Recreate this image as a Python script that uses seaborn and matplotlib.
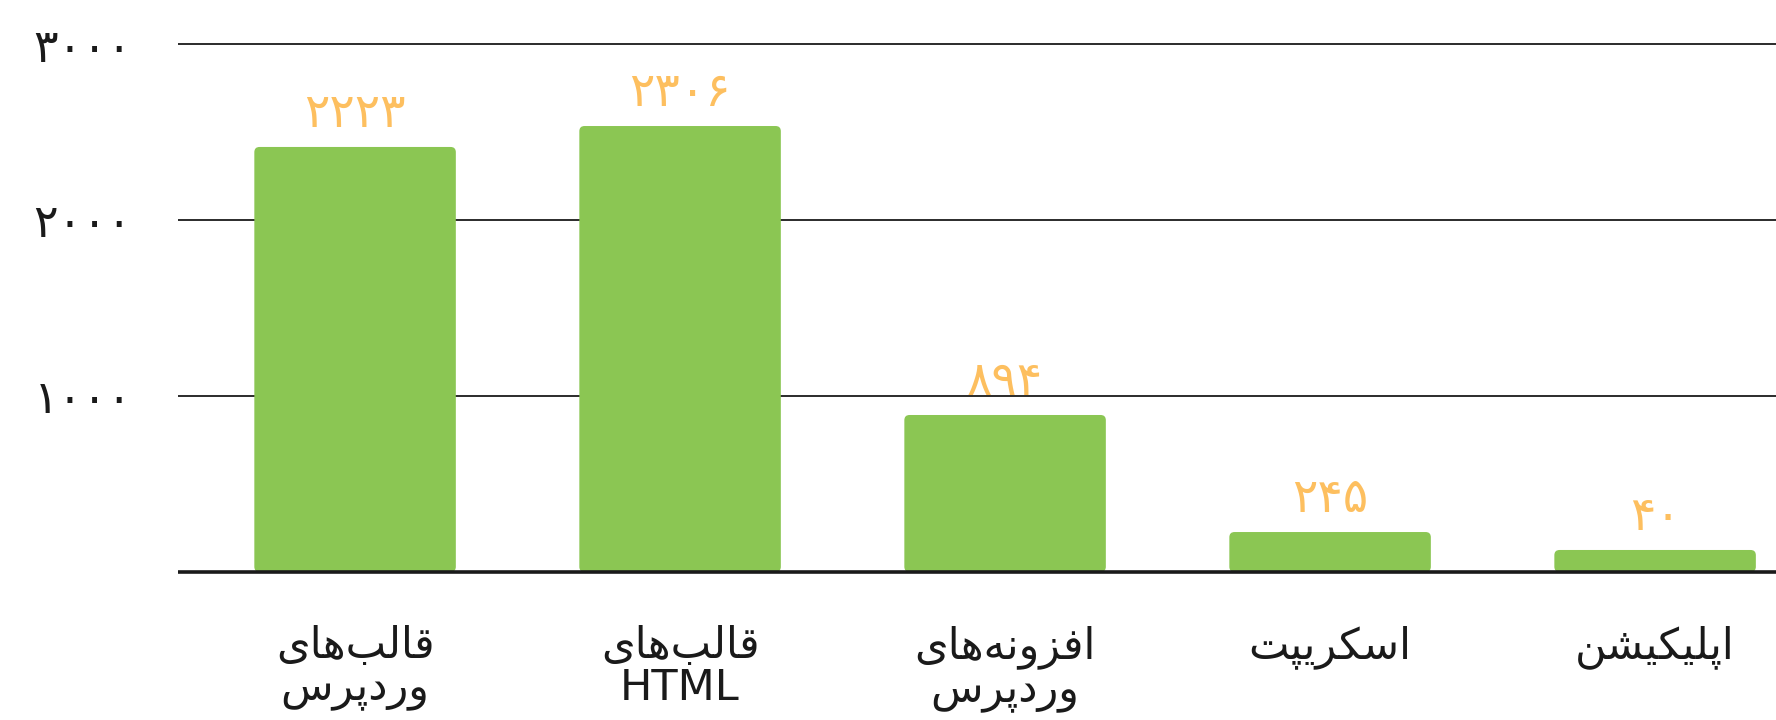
import pandas as pd
import matplotlib.pyplot as plt
import seaborn as sns
from matplotlib.patches import FancyBboxPatch

# data
categories = ["قالب‌های\nوردپرس", "قالب‌های\nHTML", "افزونه‌های\nوردپرس", "اسکریپت", "اپلیکیشن"]
bar_heights = [2415, 2534, 892, 227, 125]   # drawn height of each bar
bar_labels = [2223, 2306, 894, 245, 40]     # number printed above each bar
y_ticks = [1000, 2000, 3000]

GREEN = "#8bc653"
ORANGE = "#fdbf5f"

# matplotlib has no arabic shaping, so pick the presentation forms by hand
FORMS = {  # isolated, final, initial, medial
    'ا': ('\uFE8D', '\uFE8E', None, None),
    'ب': ('\uFE8F', '\uFE90', '\uFE91', '\uFE92'),
    'پ': ('\uFB56', '\uFB57', '\uFB58', '\uFB59'),
    'ت': ('\uFE95', '\uFE96', '\uFE97', '\uFE98'),
    'د': ('\uFEA9', '\uFEAA', None, None),
    'ر': ('\uFEAD', '\uFEAE', None, None),
    'ز': ('\uFEAF', '\uFEB0', None, None),
    'س': ('\uFEB1', '\uFEB2', '\uFEB3', '\uFEB4'),
    'ش': ('\uFEB5', '\uFEB6', '\uFEB7', '\uFEB8'),
    'ف': ('\uFED1', '\uFED2', '\uFED3', '\uFED4'),
    'ق': ('\uFED5', '\uFED6', '\uFED7', '\uFED8'),
    'ک': ('\uFB8E', '\uFB8F', '\uFB90', '\uFB91'),
    'ل': ('\uFEDD', '\uFEDE', '\uFEDF', '\uFEE0'),
    'ن': ('\uFEE5', '\uFEE6', '\uFEE7', '\uFEE8'),
    'ه': ('\uFEE9', '\uFEEA', '\uFEEB', '\uFEEC'),
    'و': ('\uFEED', '\uFEEE', None, None),
    'ی': ('\uFBFC', '\uFBFD', '\uFBFE', '\uFBFF'),
}


def shape_line(line):
    if not any(c in FORMS for c in line):
        return line
    out = []
    for i, c in enumerate(line):
        if c not in FORMS:
            if c != '\u200c':
                out.append(c)
            continue
        prev = line[i - 1] if i > 0 else None
        nxt = line[i + 1] if i + 1 < len(line) else None
        iso, fin, ini, med = FORMS[c]
        joins_prev = prev in FORMS and FORMS[prev][2] is not None
        joins_next = ini is not None and nxt in FORMS
        if joins_prev and joins_next:
            out.append(med)
        elif joins_prev:
            out.append(fin)
        elif joins_next:
            out.append(ini)
        else:
            out.append(iso)
    return ''.join(reversed(out))


def shape(text):
    return "\n".join(shape_line(l) for l in text.split("\n"))


def fa_digits(n):
    return str(n).translate(str.maketrans("0123456789", "۰۱۲۳۴۵۶۷۸۹"))


df = pd.DataFrame({"cat": categories, "height": bar_heights})

sns.set_style("white")
plt.rcParams['font.family'] = ['DejaVu Sans']

fig = plt.figure(figsize=(17.76, 7.2), dpi=100)
ax = fig.add_axes([0.1002, 0.2007, 0.8998, 0.7504])

sns.barplot(data=df, x="cat", y="height", color=GREEN, saturation=1, width=0.62, ax=ax, zorder=2)

# rounded top corners, like the original
for p in list(ax.patches):
    x, y, w, h = p.get_x(), p.get_y(), p.get_width(), p.get_height()
    rb = FancyBboxPatch((x, y), w, h, boxstyle="round,pad=0,rounding_size=0.016",
                        mutation_aspect=1850, facecolor=GREEN, edgecolor="none", zorder=2)
    p.remove()
    ax.add_patch(rb)

ax.set_xlim(-0.545, 4.372)
ax.set_ylim(-20, 3050)

ax.set_yticks(y_ticks)
ax.set_yticklabels([fa_digits(v) for v in y_ticks], fontsize=33, color="#1a1a1a")
ax.set_xticks(range(len(categories)))
ax.set_xticklabels([shape(c) for c in categories], fontsize=31, color="#1a1a1a",
                   va="top", linespacing=1.0)
ax.tick_params(axis="y", length=0, pad=33)
ax.tick_params(axis="x", length=0, pad=36)
ax.set_xlabel("")
ax.set_ylabel("")

ax.yaxis.grid(True, color="#1a1a1a", linewidth=1.3)
ax.set_axisbelow(True)
ax.axhline(0, color="#1a1a1a", linewidth=2.6, zorder=3)
sns.despine(ax=ax, left=True, bottom=True, right=True, top=True)

for i, (h, lab) in enumerate(zip(bar_heights, bar_labels)):
    ax.annotate(fa_digits(lab), (i, h), xytext=(0, 7), textcoords="offset points",
                ha="center", va="bottom", fontsize=34, color=ORANGE)

fig.savefig("out.png", dpi=100)
